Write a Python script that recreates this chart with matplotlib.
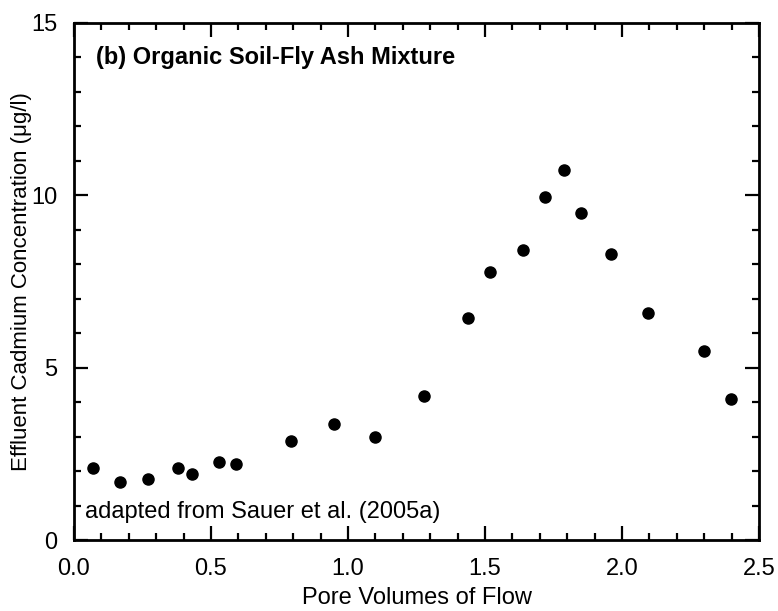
import matplotlib
matplotlib.use("Agg")
import matplotlib.pyplot as plt
from matplotlib.ticker import MultipleLocator

plt.rcParams['font.family'] = ['Liberation Sans', 'DejaVu Sans']

# effluent Cd from the organic soil / fly ash column
pore_volumes = [0.07, 0.168, 0.271, 0.381, 0.432, 0.53, 0.59, 0.791, 0.949, 1.10,
                1.278, 1.439, 1.519, 1.64, 1.719, 1.789, 1.85, 1.959, 2.096, 2.299, 2.399]
cadmium = [2.08, 1.69, 1.76, 2.08, 1.91, 2.27, 2.20, 2.86, 3.37, 2.98,
           4.19, 6.43, 7.77, 8.42, 9.95, 10.73, 9.49, 8.29, 6.59, 5.48, 4.09]

fs = 17

fig = plt.figure(figsize=(7.78, 6.11), dpi=100)
ax = fig.add_axes([0.0951, 0.1162, 0.8805, 0.8462])

ax.plot(pore_volumes, cadmium, 'o', color='black', markersize=8)

ax.set_xlim(0, 2.5)
ax.set_ylim(0, 15)
ax.xaxis.set_major_locator(MultipleLocator(0.5))
ax.xaxis.set_minor_locator(MultipleLocator(0.1))
ax.yaxis.set_major_locator(MultipleLocator(5))
ax.yaxis.set_minor_locator(MultipleLocator(1))
ax.xaxis.set_major_formatter(lambda v, p: '%.1f' % v)

ax.tick_params(which='both', direction='in', top=True, right=True, width=1.6,
               labelsize=fs, colors='black')
ax.tick_params(which='major', length=10)
ax.tick_params(which='minor', length=5)
ax.tick_params(axis='x', which='major', pad=13)
ax.tick_params(axis='y', which='major', pad=12)
for s in ax.spines.values():
    s.set_linewidth(2)

ax.set_xlabel('Pore Volumes of Flow', fontsize=fs, labelpad=5)
ax.set_ylabel('Effluent Cadmium Concentration (\u03bcg/l)', fontsize=16)
ax.yaxis.set_label_coords(-0.062, 0.5)

ax.text(0.079, 14.0, '(b) Organic Soil-Fly Ash Mixture', fontsize=fs,
        fontweight='bold', va='center', ha='left')
ax.text(0.040, 0.82, 'adapted from Sauer et al. (2005a)', fontsize=fs,
        va='center', ha='left')

fig.savefig('out.png', dpi=100)
